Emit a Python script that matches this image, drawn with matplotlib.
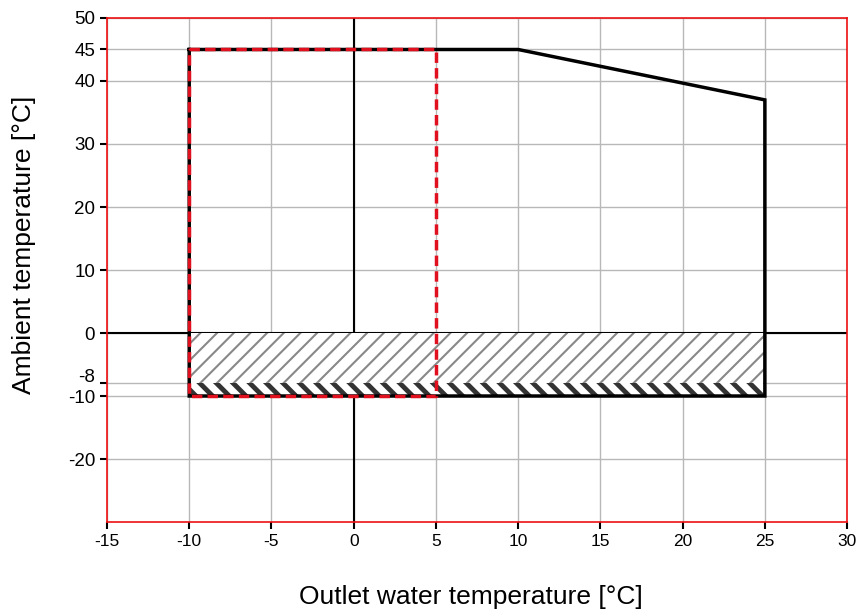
import numpy as np
import matplotlib
matplotlib.use('Agg')
import matplotlib.pyplot as plt
import matplotlib.transforms as mtransforms

plt.rcParams['font.family'] = ['Liberation Sans', 'DejaVu Sans']

# operating envelope (black outline)
env_x = [-10, 10, 25, 25, -10, -10]
env_y = [45, 45, 37, -10, -10, 45]

# reduced envelope (red dashed)
red_x = [-10, 5, 5, -10, -10]
red_y = [45, 45, -10, -10, 45]

# hatched bands
band_x = [-10, 25]
band1 = (-8, 0)
band2 = (-10, -8)

xticks = [-15, -10, -5, 0, 5, 10, 15, 20, 25, 30]
yticks = [50, 45, 40, 30, 20, 10, 0, -8, -10, -20]

fig = plt.figure(figsize=(8.6, 6.14), dpi=100)
ax = fig.add_axes([0.1244, 0.1498, 0.8606, 0.8209])

ax.set_xlim(-15, 30)
ax.set_ylim(-30, 50)
ax.set_xticks(xticks)
ax.set_yticks(yticks)
ax.set_xticklabels([str(v) for v in xticks])
ax.set_yticklabels([str(v) for v in yticks])
ax.tick_params(length=5, width=1.5, color='black')
ax.tick_params(axis='x', labelsize=12.5)
ax.tick_params(axis='y', labelsize=13.5)
ax.grid(True, color='#b8b8b8', linewidth=1)
ax.set_axisbelow(True)
for s in ax.spines.values():
    s.set_color('#ee1111')
    s.set_linewidth(1.2)

# nudge the -8 label up so it clears -10
for t in ax.get_yticklabels():
    if t.get_text() == '-8':
        t.set_transform(t.get_transform() +
                        mtransforms.ScaledTranslation(0, 8 / 100, fig.dpi_scale_trans))

ax.axhline(0, color='black', lw=1.5, zorder=2)
ax.axvline(0, color='black', lw=1.5, zorder=2)

with plt.rc_context({'hatch.linewidth': 1.5}):
    ax.fill_between(band_x, band1[0], band1[1], facecolor='white',
                    edgecolor='#888888', linewidth=0, hatch='//', zorder=3)
with plt.rc_context({'hatch.linewidth': 3.5}):
    ax.fill_between(band_x, band2[0], band2[1], facecolor='white',
                    edgecolor='#333333', linewidth=0, hatch='\\\\', zorder=3)

ax.plot(env_x, env_y, color='black', lw=2.5, zorder=4, solid_joinstyle='miter')
ax.plot(red_x, red_y, color='#e0101e', lw=2.5, ls=(0, (3, 1.5)), zorder=5)

ax.set_xlabel('Outlet water temperature [°C]', fontsize=19)
ax.set_ylabel('Ambient temperature [°C]', fontsize=19)
ax.xaxis.set_label_coords(0.492, -0.125)
ax.yaxis.set_label_coords(-0.096, 0.55)

plt.savefig('out.png')
